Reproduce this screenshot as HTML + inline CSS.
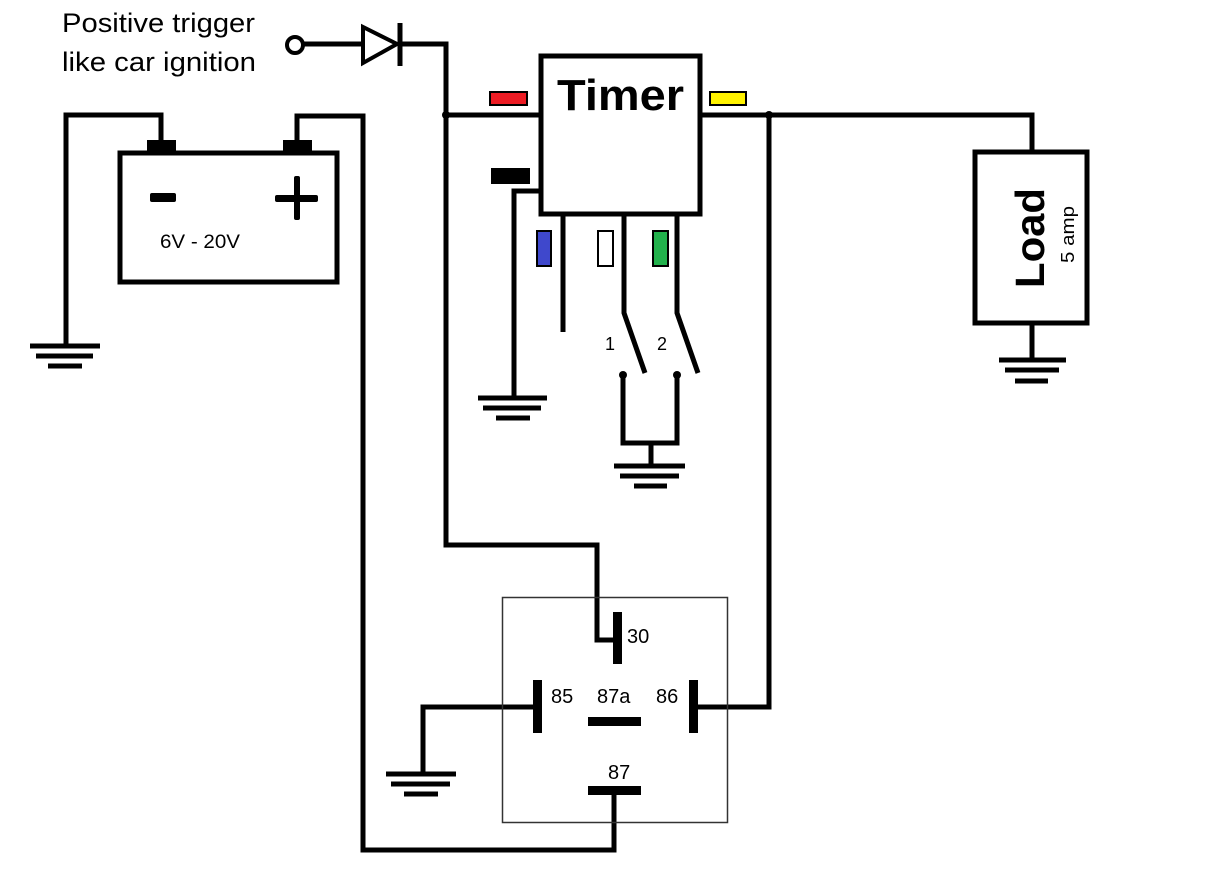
<!DOCTYPE html>
<html><head><meta charset="utf-8"><style>
html,body{margin:0;padding:0;background:#fff;}
svg{display:block;}
text{font-family:"Liberation Sans",sans-serif;}
</style></head><body>
<svg width="1210" height="896" viewBox="0 0 1210 896" xmlns="http://www.w3.org/2000/svg">
<g fill="none" stroke="#000" stroke-width="5" stroke-linecap="butt" stroke-linejoin="miter">
<circle cx="295" cy="45" r="8" stroke-width="4"/>
<line x1="303" y1="44" x2="362" y2="44"/>
<polygon points="363,27 363,63 397,44" stroke-width="4"/>
<line x1="400" y1="23" x2="400" y2="66"/>
<polyline points="400,44 446,44 446,545 597,545 597,640 614,640"/>
<line x1="446" y1="115" x2="541" y2="115"/>
<rect x="541" y="56" width="159" height="158"/>
<polyline points="700,115 1032,115 1032,152"/>
<polyline points="769,115 769,707 696,707"/>
<rect x="975" y="152" width="112" height="171"/>
<line x1="1032" y1="323" x2="1032" y2="360"/>
<line x1="999" y1="360" x2="1066" y2="360"/>
<line x1="1005" y1="370" x2="1059" y2="370"/>
<line x1="1015" y1="381" x2="1048" y2="381"/>
<rect x="120" y="153" width="217" height="129"/>
<polyline points="161,143 161,115 66,115 66,346"/>
<line x1="30" y1="346" x2="100" y2="346"/>
<line x1="36" y1="356" x2="93" y2="356"/>
<line x1="48" y1="366" x2="82" y2="366"/>
<polyline points="297,143 297,116 363,116 363,850 614,850 614,792"/>
<polyline points="541,191 514,191 514,398"/>
<line x1="478" y1="398" x2="547" y2="398"/>
<line x1="483" y1="408" x2="541" y2="408"/>
<line x1="496" y1="418" x2="530" y2="418"/>
<line x1="563" y1="214" x2="563" y2="332"/>
<polyline points="624,214 624,313 645,373"/>
<polyline points="677,214 677,313 698,373"/>
<polyline points="623,375 623,443 677,443 677,375"/>
<line x1="651" y1="443" x2="651" y2="466"/>
<line x1="614" y1="466" x2="685" y2="466"/>
<line x1="620" y1="476" x2="679" y2="476"/>
<line x1="634" y1="486" x2="667" y2="486"/>
<polyline points="537,707 423,707 423,774"/>
<line x1="386" y1="774" x2="456" y2="774"/>
<line x1="391" y1="784" x2="450" y2="784"/>
<line x1="404" y1="794" x2="438" y2="794"/>
</g>
<circle cx="623" cy="375" r="4"/>
<circle cx="677" cy="375" r="4"/>
<circle cx="446" cy="115" r="4"/>
<circle cx="769" cy="115" r="4"/>
<rect x="147" y="140" width="29" height="14"/>
<rect x="283" y="140" width="29" height="14"/>
<rect x="150" y="193" width="26" height="9" rx="2"/>
<rect x="294" y="176" width="6" height="44" rx="2"/>
<rect x="275" y="195" width="43" height="7" rx="2"/>
<text x="160" y="248" font-size="19" textLength="80" lengthAdjust="spacingAndGlyphs">6V - 20V</text>
<rect x="490" y="92" width="37" height="13" fill="#ed1c24" stroke="#000" stroke-width="2"/>
<rect x="710" y="92" width="36" height="13" fill="#fff200" stroke="#000" stroke-width="2"/>
<rect x="491" y="168" width="39" height="16" fill="#000"/>
<rect x="537" y="231" width="14" height="35" fill="#3f48cc" stroke="#000" stroke-width="2"/>
<rect x="598" y="231" width="15" height="35" fill="#fff" stroke="#000" stroke-width="2"/>
<rect x="653" y="231" width="15" height="35" fill="#22b14c" stroke="#000" stroke-width="2"/>
<text x="557" y="110" font-size="44" font-weight="bold" textLength="127" lengthAdjust="spacingAndGlyphs">Timer</text>
<text x="605" y="350" font-size="18">1</text>
<text x="657" y="350" font-size="18">2</text>
<text x="62" y="32" font-size="27" textLength="193" lengthAdjust="spacingAndGlyphs">Positive trigger</text>
<text x="62" y="71" font-size="27" textLength="194" lengthAdjust="spacingAndGlyphs">like car ignition</text>
<text transform="translate(1044,288) rotate(-90)" font-size="41" font-weight="bold" textLength="100" lengthAdjust="spacingAndGlyphs">Load</text>
<text transform="translate(1074,263) rotate(-90)" font-size="18" textLength="57" lengthAdjust="spacingAndGlyphs">5 amp</text>
<rect x="502.5" y="597.5" width="225" height="225" fill="none" stroke="#333" stroke-width="1.5"/>
<rect x="613" y="612" width="9" height="52"/>
<rect x="533" y="680" width="9" height="53"/>
<rect x="689" y="680" width="9" height="53"/>
<rect x="588" y="717" width="53" height="9"/>
<rect x="588" y="786" width="53" height="9"/>
<text x="627" y="643" font-size="20">30</text>
<text x="551" y="703" font-size="20">85</text>
<text x="597" y="703" font-size="20">87a</text>
<text x="656" y="703" font-size="20">86</text>
<text x="608" y="779" font-size="20">87</text>
</svg>
</body></html>
